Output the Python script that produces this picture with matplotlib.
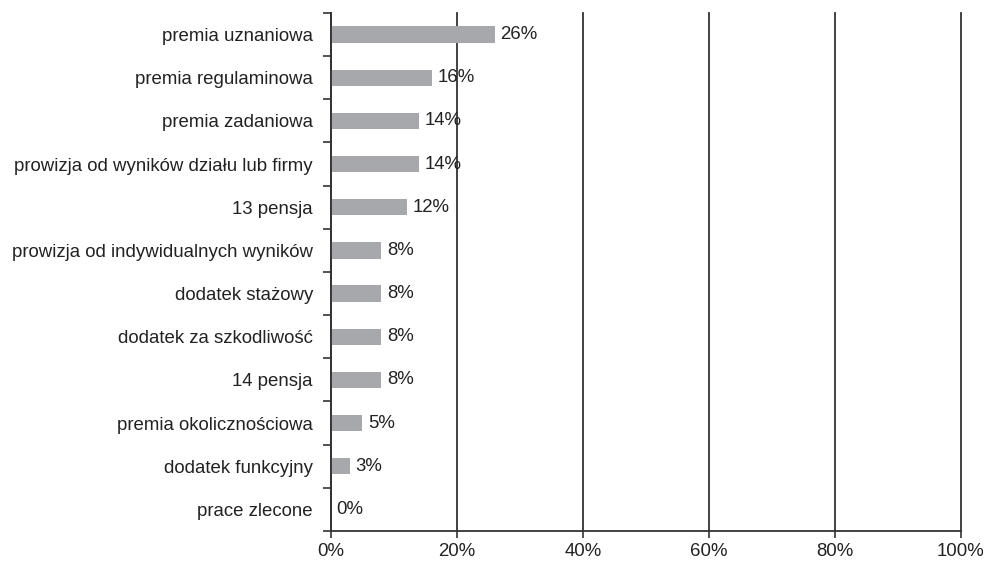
import matplotlib.pyplot as plt
import numpy as np

categories = ['premia uznaniowa', 'premia regulaminowa', 'premia zadaniowa',
              'prowizja od wyników działu lub firmy', '13 pensja',
              'prowizja od indywidualnych wyników', 'dodatek stażowy',
              'dodatek za szkodliwość', '14 pensja', 'premia okolicznościowa',
              'dodatek funkcyjny', 'prace zlecone']
values = [26, 16, 14, 14, 12, 8, 8, 8, 8, 5, 3, 0]
xticks = [0, 20, 40, 60, 80, 100]
xlabels = ['0%', '20%', '40%', '60%', '80%', '100%']

plt.rcParams['font.family'] = ['Liberation Sans', 'DejaVu Sans']
plt.rcParams['font.size'] = 13.4

fig = plt.figure(figsize=(9.86, 5.62), dpi=100)
ax = fig.add_axes([0.3357, 0.0552, 0.9746 - 0.3357, 0.9769 - 0.0552])

y = np.arange(len(categories))
ax.barh(y, values, height=0.38, color='#a7a8ab', zorder=2)
for yi, v in zip(y, values):
    ax.annotate(f'{v}%', (v, yi), xytext=(4, 0), textcoords='offset points',
                va='center', ha='left', color='#222222', zorder=4)

ax.set_ylim(len(categories) - 0.5, -0.5)
ax.set_xlim(0, 100)
ax.set_yticks(y)
ax.set_yticklabels(categories, color='#222222')
ax.set_yticks(np.arange(len(categories) + 1) - 0.5, minor=True)
ax.tick_params(axis='y', which='major', length=0, pad=13)
ax.tick_params(axis='y', which='minor', length=6, width=1.2, color='#333333')
ax.set_xticks(xticks)
ax.set_xticklabels(xlabels, color='#222222')
ax.tick_params(axis='x', length=5, width=1.2, color='#333333', pad=4)

ax.xaxis.grid(True, color='#333333', linewidth=1.3, zorder=1)
for gl in ax.get_xgridlines():
    gl.set_clip_on(False)
for s in ['top', 'right']:
    ax.spines[s].set_visible(False)
for s in ['left', 'bottom']:
    ax.spines[s].set_color('#333333')
    ax.spines[s].set_linewidth(1.3)

fig.savefig('out.png', dpi=100)
